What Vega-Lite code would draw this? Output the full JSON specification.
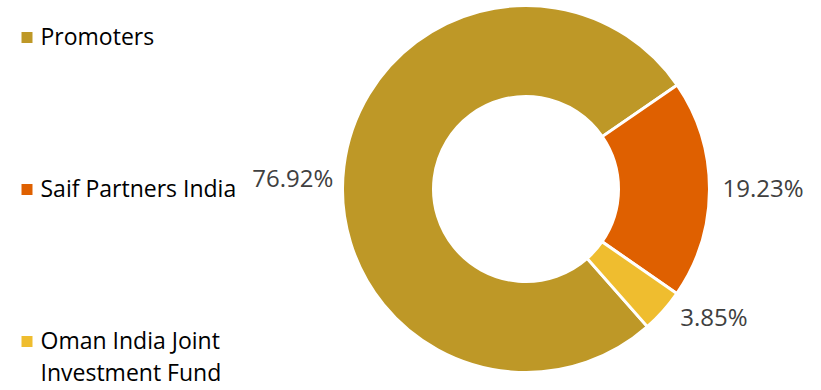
{
  "$schema": "https://vega.github.io/schema/vega-lite/v6.json",
  "width": 590,
  "height": 378,
  "autosize": {"type": "none"},
  "padding": {"left": 231, "top": 0, "right": 0, "bottom": 12},
  "background": "white",
  "config": {"view": {"stroke": null}, "style": {"guide-label": {"lineHeight": 32}}},
  "data": {
    "values": [
      {"party": "Promoters", "value": 76.92, "pct": "76.92%"},
      {"party": "Saif Partners India", "value": 19.23, "pct": "19.23%"},
      {"party": "Oman India Joint Investment Fund", "value": 3.85, "pct": "3.85%"}
    ]
  },
  "encoding": {
    "theta": {"field": "value", "type": "quantitative", "stack": true, "scale": {"range": [2.177, 8.4602]}},
    "order": {"field": "party", "sort": "ascending"}
  },
  "layer": [
    {
      "mark": {"type": "arc", "radius": 183.5, "radius2": 92.5, "stroke": "white", "strokeWidth": 3},
      "encoding": {
        "color": {
          "field": "party",
          "type": "nominal",
          "scale": {
            "domain": ["Promoters", "Saif Partners India", "Oman India Joint Investment Fund"],
            "range": ["#BE9827", "#DF6000", "#EFBD2F"]
          },
          "legend": {
            "orient": "none",
            "legendX": -215.5,
            "legendY": 26,
            "title": null,
            "padding": 0,
            "symbolType": "square",
            "symbolSize": 121,
            "symbolStrokeWidth": 0,
            "labelFont": "Open Sans",
            "labelFontSize": 23,
            "labelColor": "#000000",
            "labelOffset": 2,
            "labelLimit": 400,
            "rowPadding": 128,
            "labelExpr": "datum.label === 'Oman India Joint Investment Fund' ? ['Oman India Joint', 'Investment Fund'] : datum.label"
          }
        }
      }
    },
    {
      "mark": {"type": "text", "radius": 235, "dy": 20, "font": "Open Sans", "fontSize": 24, "color": "#404040", "align": "center", "baseline": "middle"},
      "encoding": {
        "text": {"condition": {"test": "datum.party === 'Promoters'", "field": "pct"}, "value": ""}
      }
    },
    {
      "mark": {"type": "text", "radius": 237, "dy": 1, "font": "Open Sans", "fontSize": 24, "color": "#404040", "align": "center", "baseline": "middle"},
      "encoding": {
        "text": {"condition": {"test": "datum.party === 'Saif Partners India'", "field": "pct"}, "value": ""}
      }
    },
    {
      "mark": {"type": "text", "radius": 230, "dx": 16, "dy": -23, "font": "Open Sans", "fontSize": 24, "color": "#404040", "align": "center", "baseline": "middle"},
      "encoding": {
        "text": {"condition": {"test": "datum.party === 'Oman India Joint Investment Fund'", "field": "pct"}, "value": ""}
      }
    }
  ]
}
